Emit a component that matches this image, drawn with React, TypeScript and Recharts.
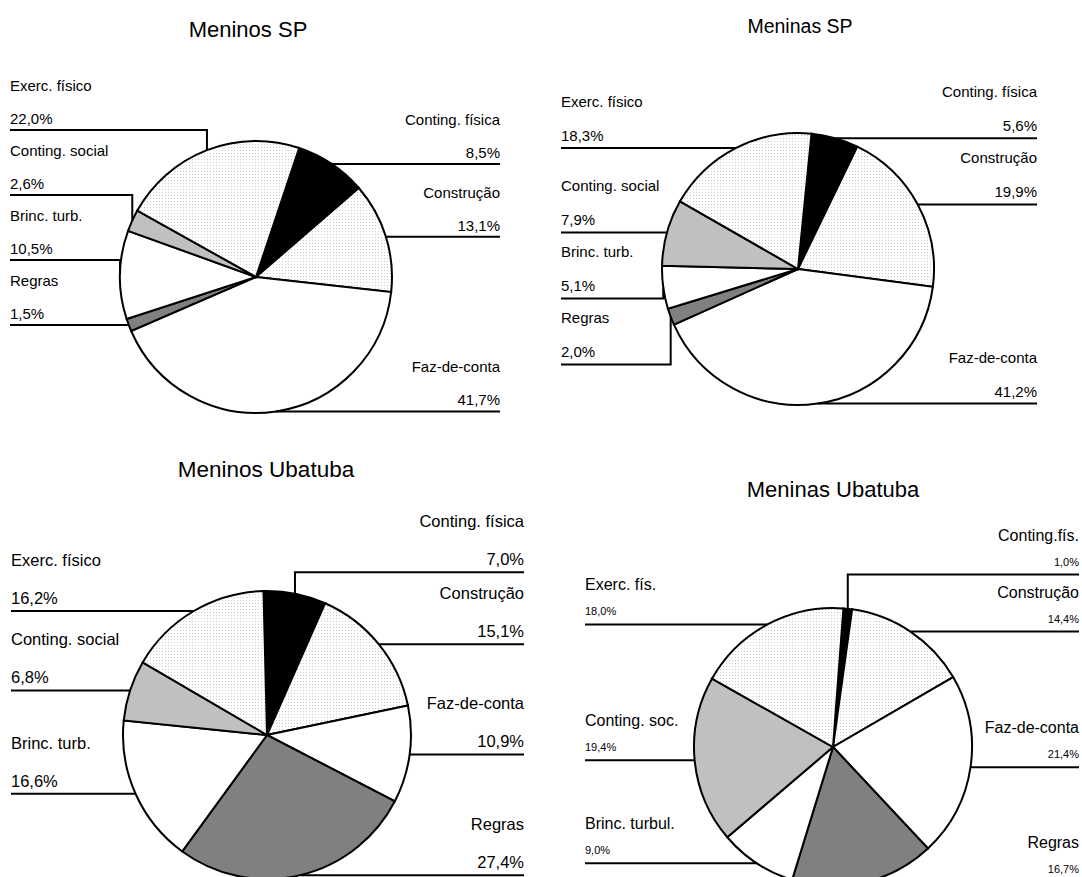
import { PieChart, Pie, Cell } from 'recharts';

// categories, in clockwise order starting at the black slice
const CATEGORIES = ['Conting. física', 'Construção', 'Faz-de-conta', 'Regras', 'Brinc. turb.', 'Conting. social', 'Exerc. físico'];
const CATEGORIES_SHORT = ['Conting.fís.', 'Construção', 'Faz-de-conta', 'Regras', 'Brinc. turbul.', 'Conting. soc.', 'Exerc. fís.'];

// percentages per group
const MENINOS_SP = [8.5, 13.1, 41.7, 1.5, 10.5, 2.6, 22.0];
const MENINAS_SP = [5.6, 19.9, 41.2, 2.0, 5.1, 7.9, 18.3];
const MENINOS_UBATUBA = [7.0, 15.1, 10.9, 27.4, 16.6, 6.8, 16.2];
const MENINAS_UBATUBA = [1.0, 14.4, 21.4, 16.7, 9.0, 19.4, 18.0];

const TITLES = ['Meninos SP', 'Meninas SP', 'Meninos Ubatuba', 'Meninas Ubatuba'];

const FILLS = ['#000000', 'url(#dots)', '#ffffff', '#808080', '#ffffff', '#c0c0c0', 'url(#dots)'];

const FONT = '"Liberation Sans", Arial, Helvetica, sans-serif';

type Stack = 'up' | 'down';

interface Panel {
  title: string;
  names: string[];
  values: number[];
  cx: number;
  cy: number;
  r: number;
  startAngle: number;
  leftX: number;
  rightX: number;
  titleX: number;
  titleY: number;
  titleSize: number;
  nameSize: number;
  pctSize: number;
  nameDy: number;
  pctDy: number;
  gap: number;
  leftStack: Stack;
  rightStack: Stack;
}

const PANELS: Panel[] = [
  {
    title: TITLES[0], names: CATEGORIES, values: MENINOS_SP,
    cx: 256, cy: 277, r: 136, startAngle: 71.5,
    leftX: 10, rightX: 500, titleX: 248, titleY: 37, titleSize: 22,
    nameSize: 15, pctSize: 15, nameDy: 39, pctDy: 6, gap: 65,
    leftStack: 'up', rightStack: 'up',
  },
  {
    title: TITLES[1], names: CATEGORIES, values: MENINAS_SP,
    cx: 798, cy: 269, r: 136, startAngle: 84.3,
    leftX: 561, rightX: 1037, titleX: 800, titleY: 33, titleSize: 19.5,
    nameSize: 15, pctSize: 15, nameDy: 41, pctDy: 7, gap: 66,
    leftStack: 'down', rightStack: 'up',
  },
  {
    title: TITLES[2], names: CATEGORIES, values: MENINOS_UBATUBA,
    cx: 267, cy: 735, r: 144, startAngle: 91.4,
    leftX: 11, rightX: 524, titleX: 266, titleY: 477, titleSize: 22.5,
    nameSize: 16.5, pctSize: 16.5, nameDy: 45, pctDy: 7, gap: 72,
    leftStack: 'up', rightStack: 'up',
  },
  {
    title: TITLES[3], names: CATEGORIES_SHORT, values: MENINAS_UBATUBA,
    cx: 833, cy: 747, r: 139, startAngle: 85.7,
    leftX: 585, rightX: 1079, titleX: 833, titleY: 497, titleSize: 22,
    nameSize: 16, pctSize: 11, nameDy: 34, pctDy: 9, gap: 57,
    leftStack: 'up', rightStack: 'up',
  },
];

const fmt = (v: number) => `${v.toFixed(1).replace('.', ',')}%`;

// label rows: start at the slice's mid-angle height, then push apart so they don't overlap
function stackLabels(p: Panel): number[] {
  const total = p.values.reduce((a, b) => a + b, 0);
  let acc = 0;
  const pts = p.values.map((v, i) => {
    const mid = p.startAngle - ((acc + v / 2) / total) * 360;
    acc += v;
    const rad = (mid * Math.PI) / 180;
    return { i, x: p.cx + p.r * Math.cos(rad), y: p.cy - p.r * Math.sin(rad) };
  });
  const ys = pts.map((pt) => pt.y);
  (['left', 'right'] as const).forEach((side) => {
    const group = pts
      .filter((pt) => (side === 'left' ? pt.x < p.cx : pt.x >= p.cx))
      .sort((a, b) => a.y - b.y);
    const dir = side === 'left' ? p.leftStack : p.rightStack;
    if (dir === 'up') {
      for (let k = group.length - 2; k >= 0; k--) {
        ys[group[k].i] = Math.min(group[k].y, ys[group[k + 1].i] - p.gap);
      }
    } else {
      for (let k = 1; k < group.length; k++) {
        ys[group[k].i] = Math.max(group[k].y, ys[group[k - 1].i] + p.gap);
      }
    }
  });
  return ys;
}

function makeLabel(p: Panel) {
  const ys = stackLabels(p);
  return (props: any) => {
    const { cx, cy, outerRadius, midAngle, index, value } = props;
    const rad = (-midAngle * Math.PI) / 180;
    const ex = cx + outerRadius * Math.cos(rad);
    const ey = cy + outerRadius * Math.sin(rad);
    const left = ex < cx;
    const ly = ys[index];
    const colX = left ? p.leftX : p.rightX;
    const anchor = left ? 'start' : 'end';
    return (
      <g key={`label-${p.title}-${index}`}>
        <polyline
          points={`${ex},${ey} ${ex},${ly} ${colX},${ly}`}
          fill="none"
          stroke="#000"
          strokeWidth={2}
        />
        <text x={colX} y={ly - p.nameDy} textAnchor={anchor} fontSize={p.nameSize} fontFamily={FONT} fill="#000">
          {p.names[index]}
        </text>
        <text x={colX} y={ly - p.pctDy} textAnchor={anchor} fontSize={p.pctSize} fontFamily={FONT} fill="#000">
          {fmt(value)}
        </text>
      </g>
    );
  };
}

export default function App() {
  return (
    <div style={{ position: 'absolute', left: 0, top: 0, width: 1082, height: 877, background: '#fff' }}>
      <svg width={1082} height={877} style={{ position: 'absolute', left: 0, top: 0 }}>
        <defs>
          <pattern id="dots" width="3" height="3" patternUnits="userSpaceOnUse">
            <rect width="3" height="3" fill="#ffffff" />
            <rect width="1" height="1" fill="#cccccc" />
          </pattern>
        </defs>
        {PANELS.map((p) => (
          <text
            key={p.title}
            x={p.titleX}
            y={p.titleY}
            textAnchor="middle"
            fontSize={p.titleSize}
            fontFamily={FONT}
            fill="#000"
          >
            {p.title}
          </text>
        ))}
      </svg>
      <div style={{ position: 'absolute', left: 0, top: 0 }}>
        <PieChart width={1082} height={877} margin={{ top: 0, right: 0, bottom: 0, left: 0 }}>
          {PANELS.map((p) => (
            <Pie
              key={p.title}
              data={p.names.map((name, i) => ({ name, value: p.values[i] }))}
              dataKey="value"
              nameKey="name"
              cx={p.cx}
              cy={p.cy}
              outerRadius={p.r}
              startAngle={p.startAngle}
              endAngle={p.startAngle - 360}
              stroke="#000"
              strokeWidth={2}
              label={makeLabel(p)}
              labelLine={false}
              isAnimationActive={false}
            >
              {p.values.map((_, i) => (
                <Cell key={i} fill={FILLS[i]} stroke="#000" strokeWidth={2} />
              ))}
            </Pie>
          ))}
        </PieChart>
      </div>
    </div>
  );
}
